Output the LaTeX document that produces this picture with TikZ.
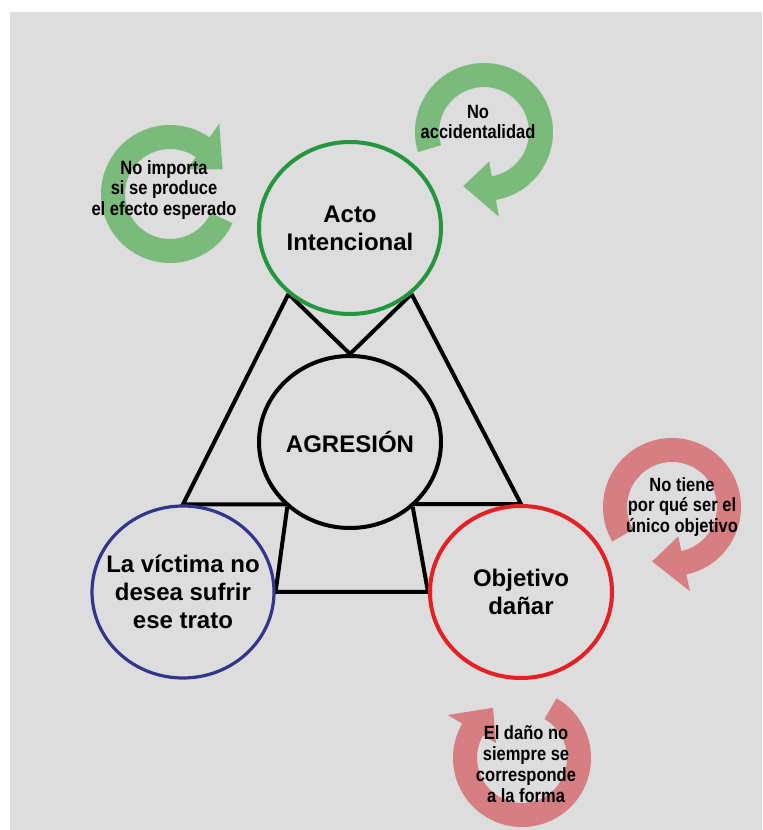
\documentclass[tikz,border=0pt]{standalone}
\usepackage{fontspec}
\setmainfont{Liberation Sans}
\newfontfamily\narrowsans[FakeStretch=0.86]{Liberation Sans}
\usetikzlibrary{shapes.geometric, positioning, backgrounds}

\definecolor{paper}{RGB}{220,221,220}
\definecolor{ringgreen}{RGB}{122,186,122}
\definecolor{ringred}{RGB}{214,126,130}
\definecolor{actogreen}{RGB}{36,150,62}
\definecolor{victimablue}{RGB}{52,52,140}
\definecolor{objetivored}{RGB}{228,32,36}

% ring arrow: #1 centre, #2 tail angle, #3 end of band, #4 tip angle, #5 colour
\newcommand{\ringarrow}[5]{%
  \begin{scope}[shift={#1}]
    \fill[#5] (#2:69) arc[start angle=#2, end angle=#3, radius=69]
      -- (#3:86) -- (#4:58) -- (#3:30) -- (#3:45)
      arc[start angle=#3, end angle=#2, radius=45] -- cycle;
  \end{scope}}

\begin{document}
\begin{tikzpicture}[x=0.5pt, y=0.5pt,
    agent/.style={ellipse, fill=paper, line width=2pt, minimum width=91pt, minimum height=86pt, inner sep=0pt},
    agenttext/.style={font=\bfseries\fontsize{12}{14}\selectfont, align=center, inner sep=0pt},
    ringtext/.style={font=\narrowsans\bfseries\fontsize{9.6}{10.4}\selectfont, align=center, inner sep=0pt},
    frame/.style={line width=2pt, black}]
    \useasboundingbox (0,0) rectangle (762,830);

    % Ring arrows
    \coordinate (ringA) at (170,636);
    \coordinate (ringB) at (484,698);
    \coordinate (ringC) at (672,323);
    \coordinate (ringD) at (522,72);
    \ringarrow{(ringA)}{-25}{-305}{-335}{ringgreen}
    \ringarrow{(ringB)}{197}{-80}{-111}{ringgreen}
    \ringarrow{(ringC)}{210}{-78}{-110}{ringred}
    \ringarrow{(ringD)}{60}{-210}{-240}{ringred}

    % Nodes
    \node[agent, draw=actogreen] (acto) at (350,602) {};
    \node[agent, draw=black] (agresion) at (350,388) {};
    \node[agent, draw=victimablue, line width=1.6pt] (victima) at (183,238) {};
    \node[agent, draw=objetivored] (objetivo) at (521,238) {};

    \node[agenttext] (acto-text) at (acto) {Acto\\Intencional};
    \node[agenttext] (agresion-text) at (agresion) {AGRESIÓN};
    \node[agenttext] (victima-text) at (victima) {La víctima no\\desea sufrir\\ese trato};
    \node[agenttext] (objetivo-text) at (objetivo) {Objetivo\\dañar};

    \node[ringtext] (efecto) at ([xshift=-3, yshift=2]ringA) {No importa\\si se produce\\el efecto esperado};
    \node[ringtext] (accidental) at ([xshift=-3, yshift=5]ringB) {No\\accidentalidad};
    \node[ringtext] (unico) at ([xshift=5, yshift=0]ringC) {No tiene\\por qué ser el\\único objetivo};
    \node[ringtext] (forma) at ([xshift=2, yshift=-3]ringD) {El daño no\\siempre se\\corresponde\\a la forma};

    % Connections
    \begin{scope}[on background layer]
        \fill[white] (0,0) rectangle (762,830);
        \fill[paper] (10,0) rectangle (762,818);
        \draw[frame] (acto.227) -- (victima.north) -- (objetivo.north) -- (acto.313);
        \draw[frame] (acto.227) -- (agresion.north) -- (acto.313);
        \draw[frame] (agresion.226) -- (victima.east) -- (objetivo.west) -- (agresion.314);
    \end{scope}
\end{tikzpicture}
\end{document}
